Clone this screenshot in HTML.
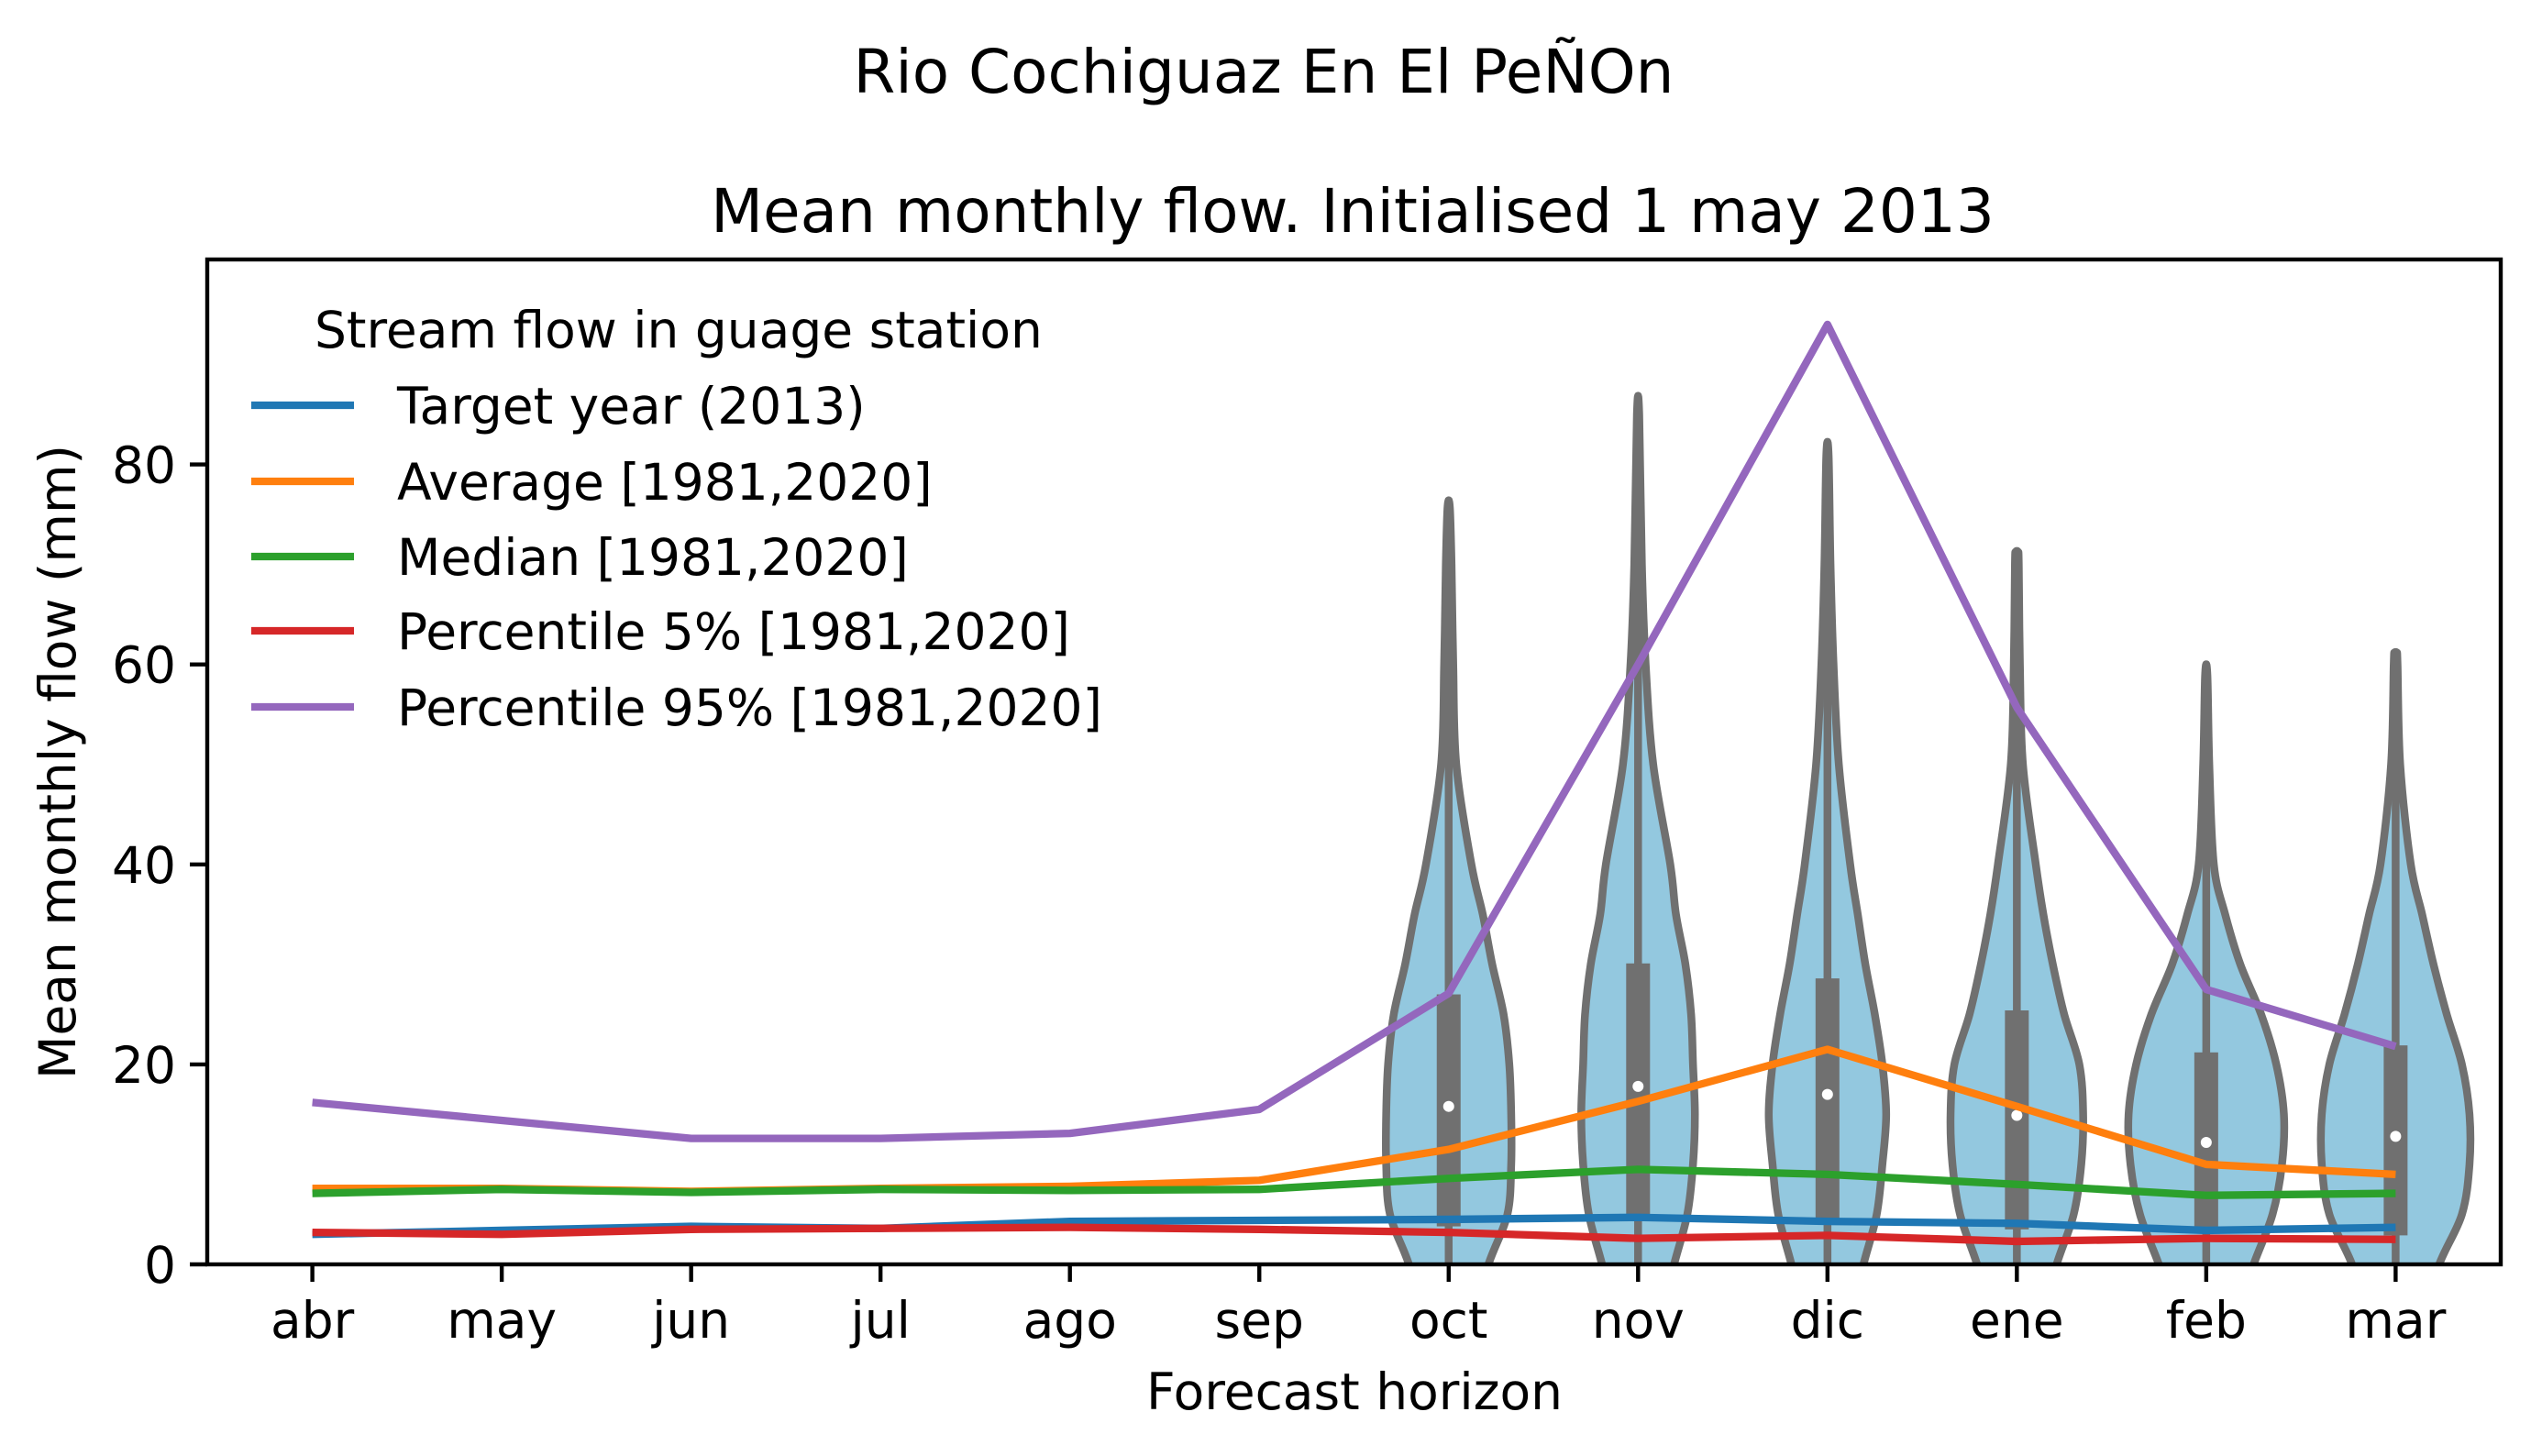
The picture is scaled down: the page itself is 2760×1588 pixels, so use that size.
<!DOCTYPE html>
<html><head><meta charset="utf-8">
<style>
html,body{margin:0;padding:0;background:#fff;}
svg{display:block;font-family:"DejaVu Sans","Liberation Sans",sans-serif;}
</style></head>
<body>
<svg id="chart" width="2760" height="1588" viewBox="0 0 2760 1588" xmlns="http://www.w3.org/2000/svg">
<text x="1378" y="101" font-size="66" text-anchor="middle">Rio Cochiguaz En El PeÑOn</text>
<text x="1475" y="253" font-size="66" text-anchor="middle">Mean monthly flow. Initialised 1 may 2013</text>
<defs><clipPath id="plotclip"><rect x="226" y="283" width="2501" height="1096"/></clipPath></defs>
<g id="violins" clip-path="url(#plotclip)"></g>
<g id="lines" clip-path="url(#plotclip)"></g>
<g id="axes"></g>
<g id="legend"></g>
<text x="1477" y="1537" font-size="55" text-anchor="middle">Forecast horizon</text>
<text x="0" y="0" font-size="55" text-anchor="middle" transform="translate(82,831) rotate(-90)">Mean monthly flow (mm)</text>
</svg>
<script>
const months = ["abr","may","jun","jul","ago","sep","oct","nov","dic","ene","feb","mar"];
const yTicks = [0,20,40,60,80];
const target2013 = [3.0,3.4,3.8,3.6,4.3,4.4,4.5,4.7,4.3,4.1,3.4,3.7];
const average = [7.6,7.6,7.3,7.6,7.8,8.4,11.5,16.3,21.5,15.8,10.0,9.0];
const median = [7.1,7.5,7.2,7.5,7.4,7.5,8.6,9.5,9.0,8.0,6.9,7.1];
const p5 = [3.2,3.0,3.5,3.6,3.7,3.5,3.2,2.6,2.9,2.3,2.6,2.5];
const p95 = [16.2,14.4,12.6,12.6,13.1,15.5,27.1,60.0,94.0,55.7,27.5,21.8];
const violinMonths = [6,7,8,9,10,11];
const violinMax = [75.7,85.0,80.9,71.2,58.9,61.1];
const violinQ1 = [3.8,4.7,4.4,3.5,3.5,2.9];
const violinQ3 = [27.0,30.1,28.6,25.4,21.2,21.9];
const violinMedian = [15.8,17.8,17.0,14.9,12.2,12.8];
const densityLevels = [-12,-6,0,5,10,15,20,25,30,35,40,50,60,70];
const densityOct = [5,12,21,31,33,33,32,29,23,18,12,4,2.4,1.5];
const densityNov = [5,11,19,26,29,30,29,28,25,20,17,8,4,2];
const densityDic = [5,11,19,26,29,31,29,25,20,16,12,6,3.2,1.6];
const densityEne = [5,12,21,30,34,35,33,25,19,14,10,3.2,1.6,1];
const densityFeb = [6,14,25,35,40,41,37,29,18,10,4,1.6,1,1];
const densityMar = [6,13,23,35,39,39,35,27,20,14,8,2.4,1,1];
const densities = [densityOct,densityNov,densityDic,densityEne,densityFeb,densityMar];

const L=226,R=2727,T=283,B=1379;
const xmin=-0.555,xmax=11.555,ymin=0,ymax=100.5;
const X=i=>L+(i-xmin)/(xmax-xmin)*(R-L);
const Y=v=>B-(v-ymin)/(ymax-ymin)*(B-T);
const W=h=>h/100*(X(1)-X(0));
const NS="http://www.w3.org/2000/svg";
function mk(tag,attrs,parent){const e=document.createElementNS(NS,tag);for(const k in attrs)e.setAttribute(k,attrs[k]);parent.appendChild(e);return e;}

const vg=document.getElementById('violins');
violinMonths.forEach((m,k)=>{
  const cx=X(m);const d=densities[k];
  const lv=densityLevels.filter(v=>v<violinMax[k]).concat([violinMax[k]]);
  const hw=d.slice(0,lv.length-1).concat([0.6]);
  let right=lv.map((v,j)=>[cx+W(hw[j]),Y(v)]);
  let left=lv.map((v,j)=>[cx-W(hw[j]),Y(v)]).reverse();
  const pts=right.concat(left);
  let p="M"+pts[0][0]+","+pts[0][1];
  for(let i=0;i<pts.length-1;i++){
    const p0=pts[Math.max(0,i-1)],p1=pts[i],p2=pts[i+1],p3=pts[Math.min(pts.length-1,i+2)];
    p+=" C"+(p1[0]+(p2[0]-p0[0])/6)+","+(p1[1]+(p2[1]-p0[1])/6)+" "+(p2[0]-(p3[0]-p1[0])/6)+","+(p2[1]-(p3[1]-p1[1])/6)+" "+p2[0]+","+p2[1];
  }
  p+="Z";
  const v=mk('path',{d:p,fill:'#93c8df',stroke:'#707070','stroke-width':8.5,'stroke-linejoin':'round'},vg);
  
  
  const w=mk('line',{x1:cx,x2:cx,y1:Y(-15),y2:Y(violinMax[k]),stroke:'#707070','stroke-width':8.5},vg);
  
  
  const b=mk('rect',{x:cx-13,width:26,y:Y(violinQ3[k]),height:Y(violinQ1[k])-Y(violinQ3[k]),fill:'#707070'},vg);
  
  
  const md=mk('circle',{cx:cx,cy:Y(violinMedian[k]),r:6,fill:'#fff'},vg);
  
  
});

const series=[
 ["Target year (2013)",target2013,"#1f77b4","target-year-line"],
 ["Average [1981,2020]",average,"#ff7f0e","average-line"],
 ["Median [1981,2020]",median,"#2ca02c","median-line"],
 ["Percentile 5% [1981,2020]",p5,"#d62728","percentile-5-line"],
 ["Percentile 95% [1981,2020]",p95,"#9467bd","percentile-95-line"]];
const lg=document.getElementById('lines');
series.forEach(s=>{
  const pl=mk('polyline',{points:s[1].map((v,i)=>X(i)+","+Y(v)).join(" "),fill:'none',stroke:s[2],'stroke-width':8.3,'stroke-linejoin':'round'},lg);
  
  
});

const ax=document.getElementById('axes');
const fr=mk('rect',{x:L,y:T,width:R-L,height:B-T,fill:'none',stroke:'#000','stroke-width':4.4},ax);


months.forEach((m,i)=>{
  const t=mk('line',{x1:X(i),x2:X(i),y1:B,y2:B+19,stroke:'#000','stroke-width':4.4},ax);
  
  
  const tx=mk('text',{x:X(i),y:B+80,'font-size':55,'text-anchor':'middle'},ax);
  tx.textContent=m;
  
  
});
yTicks.forEach(v=>{
  const t=mk('line',{x1:L-19,x2:L,y1:Y(v),y2:Y(v),stroke:'#000','stroke-width':4.4},ax);
  
  
  const tx=mk('text',{x:L-34,y:Y(v)+20,'font-size':55,'text-anchor':'end'},ax);
  tx.textContent=v;
  
  
});

const leg=document.getElementById('legend');
const lt=mk('text',{x:343,y:379,'font-size':55},leg);
lt.textContent="Stream flow in guage station";


const rowY=[442,525,607,688,771];
series.forEach((s,i)=>{
  const l=mk('line',{x1:274,x2:386,y1:rowY[i],y2:rowY[i],stroke:s[2],'stroke-width':8.3},leg);
  
  
  const t=mk('text',{x:433,y:rowY[i]+20,'font-size':55},leg);
  t.textContent=s[0];
  
  
});
</script>
</body></html>
